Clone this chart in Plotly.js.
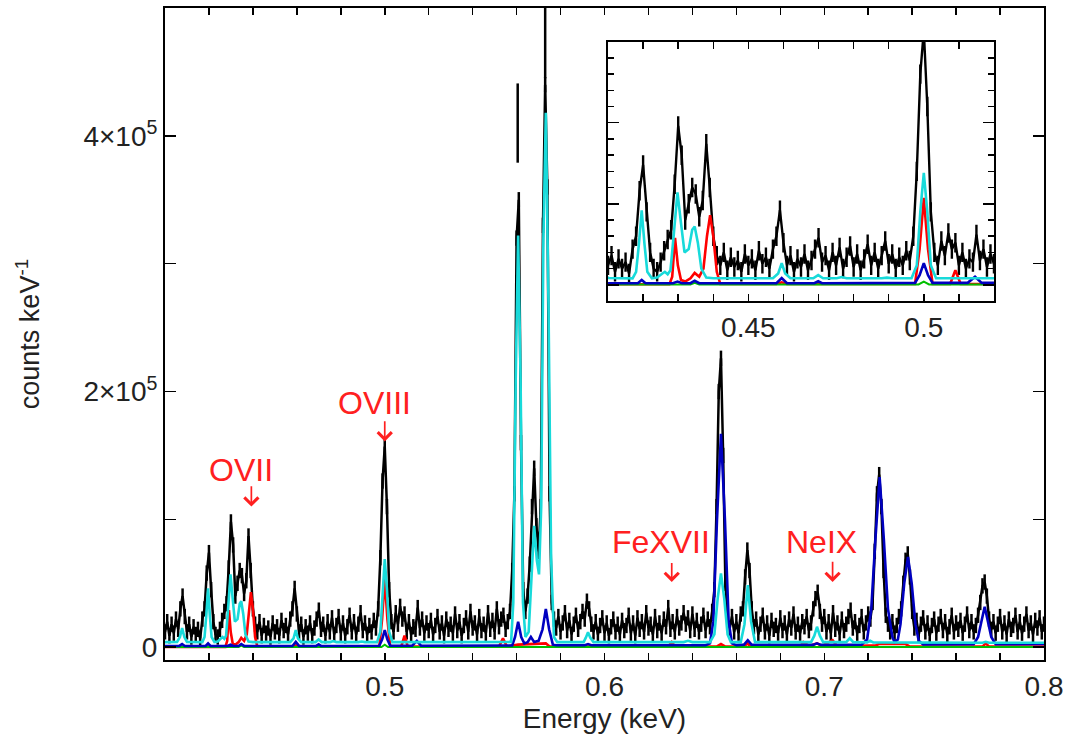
<!DOCTYPE html>
<html>
<head>
<meta charset="utf-8">
<script src="https://cdn.plot.ly/plotly-3.0.1.min.js"></script>
<style>
  html, body { margin: 0; padding: 0; background: #fff; }
  #chart { width: 1081px; height: 734px; }
</style>
</head>
<body>
<div id="chart"></div>
<script>
// Observed spectrum: counts per 0.001 keV channel, in units of 10^3 counts keV^-1
const binStart = 0.400;
const binWidth = 0.001;
const counts = [
  12, 20,  9, 18, 11, 22, 14, 30, 40, 24,   // 0.400
  12, 18,  8, 16, 10, 14,  7, 22, 30, 58,   // 0.410
  74, 45, 20, 10,  8, 14, 21, 28, 34, 62,   // 0.420
  98, 80, 40, 50, 60, 56, 42, 52, 87, 60,   // 0.430
  30, 18, 12, 20,  9, 17, 11, 15,  8, 19,   // 0.440
  12, 16,  9, 21, 13, 17, 10, 22, 30, 46,   // 0.450
  26, 12, 18,  8, 16, 11, 19,  9, 15, 22,   // 0.460
  29, 14, 18,  9, 20, 12, 23, 10, 17, 24,   // 0.470
  11, 19,  9, 16, 25, 12, 20, 10, 18, 27,   // 0.480
  13, 19, 10, 17, 12, 21, 15, 30, 70, 130,  // 0.490
  157, 110, 45, 20, 12, 27, 18, 32, 22, 26, // 0.500
  12, 20, 10, 16, 14, 31, 15, 22, 11, 19,   // 0.510
  13, 21, 10, 17, 24, 12, 19,  9, 22, 14,   // 0.520
  18, 11, 26, 13, 20,  9, 17, 23, 12, 28,   // 0.530
  15, 19, 10, 24, 13, 18, 11, 27, 14, 21,   // 0.540
  12, 30, 16, 22, 25, 14, 20, 28, 60, 120,  // 0.550
  320, 350, 160, 45, 28, 40, 65, 110, 140, 95, // 0.560
  75, 110, 330, 440, 360, 120, 35, 22, 15, 24, // 0.570
  12, 19, 27, 13, 21, 10, 18, 25, 14, 20,   // 0.580
  28, 22, 36, 30, 18, 12, 20, 10, 17, 23,   // 0.590
  11, 19,  9, 16, 22, 12, 18, 10, 21, 13,   // 0.600
  17, 25, 11, 19,  9, 23, 14, 20, 12, 27,   // 0.610
  15, 18, 10, 24, 13, 19, 11, 22, 16, 31,   // 0.620
  14, 20, 12, 24, 15, 19, 27, 18, 23, 13,   // 0.630
  26, 14, 21, 12, 18, 25, 13, 22, 16, 28,   // 0.640
  45, 110, 200, 226, 150, 50, 22, 15, 24, 12, // 0.650
  20, 11, 26, 30, 55, 76, 60, 30, 16, 22,   // 0.660
  10, 18, 25, 12, 19,  9, 21, 14, 17, 11,   // 0.670
  23, 13, 19, 10, 22, 15, 26, 12, 18, 11,   // 0.680
  20, 16, 24, 13, 19, 30, 38, 43, 28, 18,   // 0.690
  24, 12, 20, 11, 27, 14, 19, 10, 22, 13,   // 0.700
  18, 24, 29, 15, 20, 11, 17, 24, 12, 19,   // 0.710
  26, 22, 35, 75, 120, 135, 110, 60, 25, 18, // 0.720
  12, 20, 11, 17, 24, 30, 50, 68, 73, 55,   // 0.730
  28, 15, 21, 10, 18, 23, 12, 19,  9, 17,   // 0.740
  22, 11, 18, 24, 13, 20, 10, 16, 25, 12,   // 0.750
  19, 14, 21, 11, 18, 26, 13, 20, 12, 17,   // 0.760
  25, 35, 48, 51, 40, 22, 14, 20, 11, 18,   // 0.770
  24, 12, 19, 10, 22, 14, 17, 25, 12, 20,   // 0.780
  11, 18, 26, 13, 19, 10, 21, 15, 23, 12,   // 0.790
  18                                        // 0.800
];
// Typical 1-sigma error per channel (10^3 counts keV^-1)
const countErr = 6;

// Error bars that stand apart from the data band at the two strongest lines
const errE    = [0.5605, 0.5730];
const errLow  = [379, 445];
const errHigh = [441, 520];

// Model components (10^3 counts keV^-1)
const cyanE = [0.4000, 0.4055, 0.4068, 0.4078, 0.4088, 0.4100, 0.4170, 0.4180, 0.4188, 0.4196,
  0.4204, 0.4212, 0.4225, 0.4240, 0.4255, 0.4262, 0.4270, 0.4278, 0.4287, 0.4298,
  0.4308, 0.4318, 0.4330, 0.4340, 0.4347, 0.4356, 0.4366, 0.4380, 0.4400, 0.4570,
  0.4585, 0.4595, 0.4605, 0.4620, 0.4685, 0.4699, 0.4713, 0.4752, 0.4766, 0.4780,
  0.4880, 0.4895, 0.4910, 0.4965, 0.4980, 0.4990, 0.5000, 0.5010, 0.5020, 0.5035,
  0.5500, 0.5575, 0.5585, 0.5596, 0.5607, 0.5618, 0.5629, 0.5640, 0.5655, 0.5668,
  0.5680, 0.5692, 0.5702, 0.5712, 0.5722, 0.5733, 0.5745, 0.5757, 0.5770, 0.5785,
  0.5905, 0.5915, 0.5925, 0.5935, 0.5950, 0.6360, 0.6380, 0.6400, 0.6480, 0.6500,
  0.6515, 0.6530, 0.6545, 0.6560, 0.6575, 0.6620, 0.6637, 0.6652, 0.6667, 0.6685,
  0.6940, 0.6955, 0.6967, 0.6980, 0.6995, 0.7100, 0.7116, 0.7132, 0.7195, 0.7209,
  0.7223, 0.7720, 0.7735, 0.7750, 0.8000];
const cyanY = [4, 4.2, 8, 15, 8, 4.2, 4, 8, 25, 46,
  25, 8, 4, 4.5, 7, 8, 6.5, 9, 30, 57,
  38, 20, 22, 34, 36, 26, 10, 4.5, 4, 4,
  7, 13.4, 7, 4, 4, 6, 4, 4, 4.8, 4,
  4, 4.4, 4, 4, 12, 45, 69, 45, 12, 4,
  4, 4.2, 35, 210, 322, 210, 35, 8, 12, 55,
  95, 68, 57, 110, 320, 418, 270, 70, 8, 4,
  4, 7.5, 11.7, 7.5, 4, 4, 5, 4, 4, 10,
  38, 57.7, 38, 10, 4, 4, 18, 48.5, 20, 4,
  4, 9, 16, 9, 4, 4, 7, 4, 3.8, 5,
  3.8, 3.5, 4.2, 3.5, 3.5];

const blueE = [0.4000, 0.4065, 0.4078, 0.4090, 0.4185, 0.4196, 0.4207, 0.4285, 0.4298, 0.4311,
  0.4335, 0.4347, 0.4360, 0.4580, 0.4595, 0.4610, 0.4688, 0.4699, 0.4710, 0.4975,
  0.4988, 0.5000, 0.5012, 0.5025, 0.5125, 0.5146, 0.5165, 0.5580, 0.5593, 0.5607,
  0.5621, 0.5635, 0.5650, 0.5665, 0.5680, 0.5700, 0.5718, 0.5733, 0.5748, 0.5765,
  0.5780, 0.5910, 0.5925, 0.5940, 0.6460, 0.6480, 0.6495, 0.6512, 0.6530, 0.6548,
  0.6565, 0.6580, 0.6600, 0.6635, 0.6652, 0.6669, 0.6950, 0.6967, 0.6984, 0.7170,
  0.7195, 0.7214, 0.7233, 0.7252, 0.7271, 0.7290, 0.7310, 0.7320, 0.7335, 0.7347,
  0.7364, 0.7381, 0.7398, 0.7415, 0.7430, 0.7450, 0.7680, 0.7700, 0.7715, 0.7730,
  0.7745, 0.7760, 0.7780, 0.8000];
const blueY = [1, 1, 2.5, 1, 1, 3, 1, 1, 2, 1,
  1, 2.5, 1, 1, 4.2, 1, 1, 2.2, 1, 1.2,
  6, 13.4, 6, 1.2, 1.2, 5, 1.2, 1.3, 8, 20,
  8, 3, 4, 8, 4, 5, 14, 30, 14, 2,
  1.5, 1.5, 2.5, 1.5, 1.5, 3, 20, 100, 167, 100,
  20, 3, 1.6, 2, 5.5, 2, 1.8, 3, 1.8, 2,
  6, 30, 85, 133, 85, 30, 8, 4, 6, 18,
  50, 70.7, 50, 18, 5, 2.2, 2.3, 8, 20, 31.6,
  20, 8, 2.4, 2.5];

const redE = [0.4000, 0.4275, 0.4283, 0.4291, 0.4299, 0.4308, 0.4320, 0.4335, 0.4347, 0.4360,
  0.4372, 0.4382, 0.4391, 0.4400, 0.4410, 0.4420, 0.4580, 0.4595, 0.4610, 0.4975,
  0.4988, 0.5000, 0.5012, 0.5025, 0.5075, 0.5090, 0.5105, 0.5520, 0.5538, 0.5556,
  0.5607, 0.5733, 0.5750, 0.6290, 0.6306, 0.6322, 0.6510, 0.6530, 0.6550, 0.6635,
  0.6650, 0.6665, 0.6890, 0.6905, 0.6930, 0.6967, 0.6990, 0.7038, 0.7060, 0.7235,
  0.7250, 0.7370, 0.7390, 0.7720, 0.7735, 0.7750, 0.8000];
const redY = [0.3, 0.3, 5, 29, 12, 3, 2, 4, 7.3, 5,
  10, 30, 43, 30, 8, 0.5, 0.5, 1.5, 0.5, 0.5,
  22, 53.6, 22, 0.5, 0.5, 9, 0.5, 0.5, 7, 0.5,
  2, 3, 0.5, 0.5, 4, 0.5, 0.5, 2.5, 0.5, 0.5,
  3, 0.5, 0.5, 4, 1, 3, 1, 5.5, 0.5, 1.5,
  2.5, 2.5, 0.5, 0.5, 3, 0.5, 0.5];

const greenE = [0.4000, 0.4335, 0.4347, 0.4360, 0.4985, 0.5000, 0.5015, 0.8000];
const greenY = [0.2, 0.2, 1.2, 0.2, 0.2, 2, 0.2, 0.2];

// Axis tick positions and labels
const mainTickE = [0.42, 0.44, 0.46, 0.48, 0.50, 0.52, 0.54, 0.56, 0.58, 0.60,
  0.62, 0.64, 0.66, 0.68, 0.70, 0.72, 0.74, 0.76, 0.78, 0.80];
const mainTickText = ['', '', '', '', '0.5', '', '', '', '', '0.6',
  '', '', '', '', '0.7', '', '', '', '', '0.8'];
const mainTickY = [0, 100, 200, 300, 400];
const mainTickYText = ['0', '', '2×10<sup>5</sup>', '', '4×10<sup>5</sup>'];
const insetTickE = [0.42, 0.43, 0.44, 0.45, 0.46, 0.47, 0.48, 0.49, 0.50, 0.51];
const insetTickText = ['', '', '', '0.45', '', '', '', '', '0.5', ''];

const dataE = counts.map((_, i) => +(binStart + i * binWidth).toFixed(4));

// Vertical error segments: one per channel plus the two isolated bars
function errorSegments() {
  const xs = [], ys = [];
  dataE.forEach((e, i) => { xs.push(e, e, null); ys.push(counts[i] - countErr, counts[i] + countErr, null); });
  errE.forEach((e, i) => { xs.push(e, e, null); ys.push(errLow[i], errHigh[i], null); });
  return { xs, ys };
}
const seg = errorSegments();

function spectrumTraces(xa, ya, w) {
  const common = { mode: 'lines', xaxis: xa, yaxis: ya, hoverinfo: 'skip' };
  return [
    Object.assign({ x: seg.xs, y: seg.ys, line: { color: '#000', width: w } }, common),
    Object.assign({ x: dataE, y: counts, line: { color: '#000', width: w } }, common),
    Object.assign({ x: redE, y: redY, line: { color: '#ff0000', width: 2.6 } }, common),
    Object.assign({ x: greenE, y: greenY, line: { color: '#00c000', width: 2 } }, common),
    Object.assign({ x: blueE, y: blueY, line: { color: '#0000c0', width: 2.6 } }, common),
    Object.assign({ x: cyanE, y: cyanY, line: { color: '#18dada', width: 2.6 } }, common)
  ];
}

const traces = spectrumTraces('x', 'y', 2.5).concat(spectrumTraces('x2', 'y2', 2.4));

const FONT = 'Liberation Sans, Arial, Helvetica, sans-serif';
const tickFont = { family: FONT, size: 28, color: '#222' };
const labelFont = { family: FONT, size: 32, color: '#ff2020' };

function arrow(e, top, tip) {
  return {
    x: e, y: tip, ax: e, ay: top, xref: 'x', yref: 'y', axref: 'x', ayref: 'y',
    text: '', showarrow: true, arrowhead: 4, arrowsize: 1.6, arrowwidth: 1.7,
    arrowcolor: '#ff2020'
  };
}
function label(text, e, yc) {
  return { x: e, y: yc, xref: 'x', yref: 'y', text: text, showarrow: false,
    font: labelFont, xanchor: 'center', yanchor: 'middle' };
}

const layout = {
  width: 1081, height: 734,
  margin: { l: 165, r: 37, t: 8, b: 74, pad: 0 },
  paper_bgcolor: '#fff', plot_bgcolor: '#fff',
  showlegend: false,
  font: { family: FONT, color: '#222' },
  xaxis: {
    domain: [0, 1], range: [0.4, 0.8], anchor: 'y',
    tickmode: 'array', tickvals: mainTickE, ticktext: mainTickText,
    ticks: 'inside', ticklen: 7, tickwidth: 1.5, tickcolor: '#000',
    showline: true, linewidth: 2, linecolor: '#000', mirror: 'ticks',
    showgrid: false, zeroline: false, tickfont: tickFont,
    title: { text: 'Energy (keV)', font: { family: FONT, size: 28, color: '#222' }, standoff: 10 }
  },
  yaxis: {
    domain: [0, 1], range: [-10, 500], anchor: 'x',
    tickmode: 'array', tickvals: mainTickY, ticktext: mainTickYText,
    ticks: 'inside', ticklen: 11, tickwidth: 1.5, tickcolor: '#000',
    showline: true, linewidth: 2, linecolor: '#000', mirror: 'ticks',
    showgrid: false, zeroline: false, tickfont: tickFont,
    title: { text: 'counts keV<sup>-1</sup>', font: { family: FONT, size: 27, color: '#222' }, standoff: 36 }
  },
  xaxis2: {
    domain: [0.504, 0.9431], range: [0.41, 0.52], anchor: 'y2',
    tickmode: 'array', tickvals: insetTickE, ticktext: insetTickText,
    ticks: 'inside', ticklen: 7, tickwidth: 1.5, tickcolor: '#000',
    showline: true, linewidth: 2, linecolor: '#000', mirror: 'ticks',
    showgrid: false, zeroline: false, tickfont: tickFont
  },
  yaxis2: {
    domain: [0.5506, 0.9483], range: [-10, 150], anchor: 'x2',
    tickmode: 'linear', tick0: 0, dtick: 50, showticklabels: false,
    ticks: 'inside', ticklen: 11, tickwidth: 1.5, tickcolor: '#000',
    minor: { tickmode: 'linear', tick0: 0, dtick: 10, ticks: 'inside', ticklen: 6, tickwidth: 1.5, tickcolor: '#000', showgrid: false },
    showline: true, linewidth: 2, linecolor: '#000', mirror: 'ticks',
    showgrid: false, zeroline: false
  },
  annotations: [
    label('OVII', 0.4347, 139), arrow(0.4393, 127, 110),
    label('OVIII', 0.4954, 191), arrow(0.5000, 178, 161),
    label('FeXVII', 0.6258, 82), arrow(0.6306, 67, 51),
    label('NeIX', 0.6986, 82), arrow(0.7038, 68, 51)
  ]
};

Plotly.newPlot('chart', traces, layout, { staticPlot: true, displayModeBar: false });
</script>
</body>
</html>
